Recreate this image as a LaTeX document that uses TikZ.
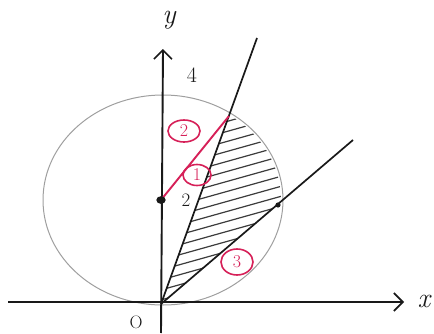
\documentclass[tikz,border=0pt]{standalone}
\usetikzlibrary{arrows.meta,shapes.geometric}
\definecolor{pen}{RGB}{214,32,88}
\definecolor{ink}{RGB}{25,25,25}
\begin{document}
\begin{tikzpicture}[x=1pt,y=1pt,
  axis/.style={draw=ink,line width=1.9pt},
  ray/.style={draw=ink,line width=1.7pt},
  hatchline/.style={draw=ink!85,line width=1.2pt},
  rimline/.style={draw=gray!75,line width=1pt},
  redline/.style={draw=pen,line width=1.9pt},
  tag/.style={draw=pen,text=pen,ellipse,line width=1.6pt,inner sep=0pt,minimum width=28pt,minimum height=21pt,font=\fontsize{18}{18}\selectfont},
  lbl/.style={text=ink,inner sep=0pt},
  barb/.style={-{Straight Barb[length=9pt,width=18pt,line width=1.6pt]}}]
\useasboundingbox (0,0) rectangle (434,333);
% key points
\coordinate (O) at (161,29);
\coordinate (xL) at (8,31);
\coordinate (xR) at (404,31);
\coordinate (yB) at (161,0);
\coordinate (yT) at (163,284);
\coordinate (C) at (161,133);
\coordinate (P) at (257,295);
\coordinate (Q) at (353,193);
\coordinate (R) at (229,217);
\coordinate (D) at (278,128);
% hatching
\begin{scope}
  \clip (163,133) ellipse [x radius=118, y radius=103];
  \clip (O) -- (P) -- (Q) -- cycle;
  \foreach \k in {0,...,24} {
    \draw[hatchline] (150,{-10+10*\k}) -- (300,{-10+10*\k+42});
  }
\end{scope}
% circle
\draw[rimline] (163,133) ellipse [x radius=120, y radius=105];
% axes
\draw[axis,barb] (xL) -- (xR);
\draw[axis,barb] (yB) -- (yT);
% rays
\draw[ray] (O) -- (P);
\draw[ray] (O) -- (Q);
% red segment
\draw[redline] (C) -- (R);
% dots
\filldraw[ink,line width=1.2pt] (C) circle [x radius=4, y radius=3.2];
\fill[ink] (D) circle [radius=2.6];
% labels
\node[lbl,font=\fontsize{28}{28}\selectfont\itshape] (ylab) at (169,313) {y};
\node[lbl,font=\fontsize{28}{28}\selectfont\itshape] (xlab) at (424,32) {x};
\node[lbl,font=\fontsize{22}{22}\selectfont] (four) at (192,258) {4};
\node[lbl,font=\fontsize{19}{19}\selectfont] (two) at (186,133) {2};
\node[lbl,font=\fontsize{18}{18}\selectfont] (orig) at (136,11) {O};
% circled tags
\node[tag,minimum width=32pt,minimum height=22pt] (t2) at (184,202) {2};
\node[tag] (t1) at (197,158) {1};
\node[tag,minimum width=32pt,minimum height=26pt] (t3) at (237,71) {3};
\end{tikzpicture}
\end{document}
